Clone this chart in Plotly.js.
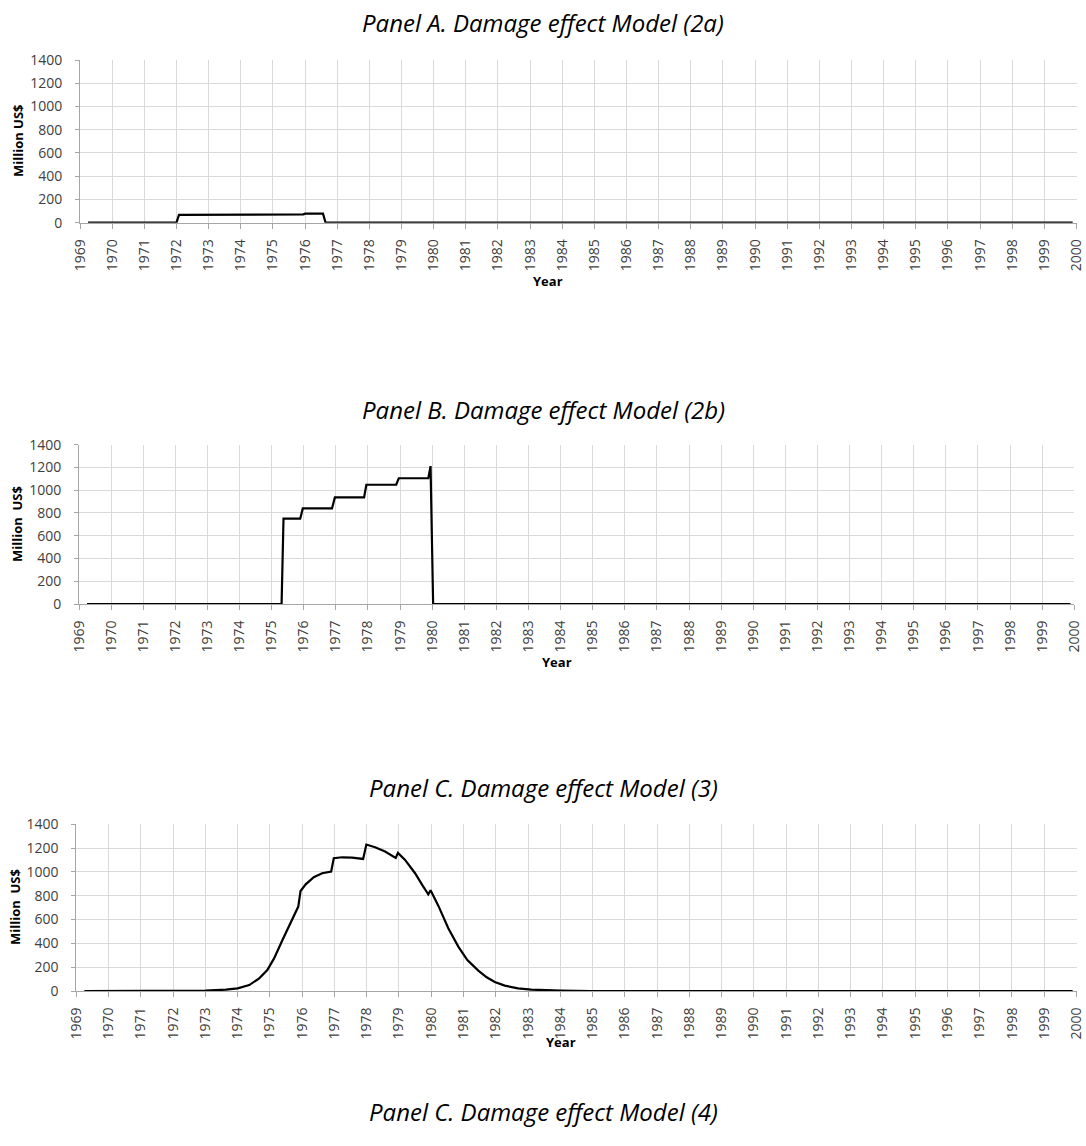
<!DOCTYPE html>
<html>
<head>
<meta charset="utf-8">
<script src="https://cdn.plot.ly/plotly-3.0.1.min.js"></script>
<style>
html,body{margin:0;padding:0;background:#fff;}
#chart{width:1086px;height:1146px;}
</style>
</head>
<body>
<div id="chart"></div>
<script>
// ---- Data ----
const panelTitles = [
  "Panel A. Damage effect Model (2a)",
  "Panel B. Damage effect Model (2b)",
  "Panel C. Damage effect Model (3)",
  "Panel C. Damage effect Model (4)"
];
const yAxisLabels = ["Million US$", "Million\u00A0 US$", "Million\u00A0 US$"];
const xAxisLabel = "Year";

// Panel A: Model (2a)
const yearsA = [1969.25, 1972.0, 1972.08, 1974.95, 1975.0, 1975.95, 1976.0, 1976.56, 1976.64, 1999.88];
const valuesA = [0, 0, 67, 67, 72, 72, 78, 78, 0, 0];

// Panel B: Model (2b)
const yearsB = [1969.25, 1975.31, 1975.37, 1975.89, 1975.97, 1976.88, 1976.97, 1977.88, 1977.95,
                1978.88, 1978.96, 1979.88, 1979.95, 1980.03, 1999.88];
const valuesB = [0, 0, 750, 750, 840, 840, 937, 937, 1048, 1048, 1105, 1105, 1212, 0, 0];

// Panel C: Model (3)
const yearsC = [1969.25, 1972.0, 1973.0, 1973.64, 1974.0, 1974.36, 1974.67, 1974.92, 1975.13, 1975.39,
                1975.64, 1975.88, 1975.95, 1976.11, 1976.36, 1976.62, 1976.90, 1976.98, 1977.24, 1977.55,
                1977.89, 1977.99, 1978.26, 1978.57, 1978.90, 1978.97, 1979.19, 1979.50, 1979.72, 1979.91,
                1979.98, 1980.22, 1980.53, 1980.84, 1981.12, 1981.46, 1981.72, 1981.97, 1982.28, 1982.69,
                1983.10, 1983.51, 1984.03, 1984.95, 1999.88];
const valuesC = [0, 0, 3, 11, 22, 50, 106, 176, 274, 429,
                 577, 709, 840, 896, 955, 989, 1003, 1115, 1123, 1120,
                 1109, 1230, 1207, 1171, 1118, 1160, 1101, 989, 891, 812,
                 846, 717, 527, 373, 260, 171, 115, 76, 45, 22,
                 11, 6, 3, 0, 0];

// ---- Layout helpers (pixel geometry of the page) ----
const W = 1086, H = 1146;
const px = v => v / W;
const py = v => 1 - v / H;

const plots = [
  {x0: 80,   x1: 1076.5, y0: 60,    y1: 222.7, ylab: [18, 141], xlab: [548, 281]},
  {x0: 79,   x1: 1074.3, y0: 444.7, y1: 604,   ylab: [17, 524], xlab: [557, 662]},
  {x0: 76.3, x1: 1076.5, y0: 824.3, y1: 991,   ylab: [15, 907], xlab: [561, 1042]}
];
const titleY = [22, 409, 787, 1111];

const tickFont = {family: "Open Sans, sans-serif", size: 14, color: "#404040"};
const gridColor = "#d9d9d9";
const axisColor = "#a6a6a6";

const data = [
  {x: yearsA, y: valuesA, xaxis: "x",  yaxis: "y"},
  {x: yearsB, y: valuesB, xaxis: "x2", yaxis: "y2"},
  {x: yearsC, y: valuesC, xaxis: "x3", yaxis: "y3"}
].map(t => Object.assign(t, {
  type: "scatter", mode: "lines", line: {color: "#000", width: 2.2}, hoverinfo: "skip", showlegend: false
}));

const layout = {
  width: W, height: H,
  margin: {l: 0, r: 0, t: 0, b: 0},
  paper_bgcolor: "#fff", plot_bgcolor: "#fff",
  showlegend: false,
  annotations: []
};

plots.forEach((p, i) => {
  const s = i === 0 ? "" : String(i + 1);
  layout["xaxis" + s] = {
    domain: [px(p.x0), px(p.x1)],
    anchor: "y" + s,
    range: [1969, 2000.0005],
    tick0: 1969, dtick: 1,
    tickangle: -90,
    tickfont: tickFont,
    ticks: "outside", ticklen: 5, tickcolor: axisColor, tickwidth: 1,
    ticklabelstandoff: 5,
    ticklabeloverflow: "allow",
    showgrid: true, gridcolor: gridColor, gridwidth: 1,
    showline: true, linecolor: axisColor, linewidth: 1,
    zeroline: false, fixedrange: true
  };
  layout["yaxis" + s] = {
    domain: [py(p.y1), py(p.y0)],
    anchor: "x" + s,
    range: [0, 1400],
    tick0: 0, dtick: 200,
    tickfont: tickFont,
    ticks: "outside", ticklen: 4, tickcolor: axisColor, tickwidth: 1,
    ticklabelstandoff: 10,
    ticklabeloverflow: "allow",
    showgrid: true, gridcolor: gridColor, gridwidth: 1,
    showline: true, linecolor: axisColor, linewidth: 1,
    zeroline: false, fixedrange: true
  };
  layout.annotations.push({
    text: "<b>" + yAxisLabels[i] + "</b>", textangle: -90,
    xref: "paper", yref: "paper", x: px(p.ylab[0]), y: py(p.ylab[1]),
    xanchor: "center", yanchor: "middle", showarrow: false,
    font: {family: "Open Sans, sans-serif", size: 13, color: "#000"}
  });
  layout.annotations.push({
    text: "<b>" + xAxisLabel + "</b>",
    xref: "paper", yref: "paper", x: px(p.xlab[0]), y: py(p.xlab[1]),
    xanchor: "center", yanchor: "middle", showarrow: false,
    font: {family: "Open Sans, sans-serif", size: 13, color: "#000"}
  });
});

panelTitles.forEach((t, i) => {
  layout.annotations.push({
    text: "<i>" + t + "</i>",
    xref: "paper", yref: "paper", x: px(543), y: py(titleY[i]),
    xanchor: "center", yanchor: "middle", showarrow: false,
    font: {family: "Open Sans, sans-serif", size: 24, color: "#000"}
  });
});

Plotly.newPlot("chart", data, layout, {displayModeBar: false, staticPlot: true});
</script>
</body>
</html>
